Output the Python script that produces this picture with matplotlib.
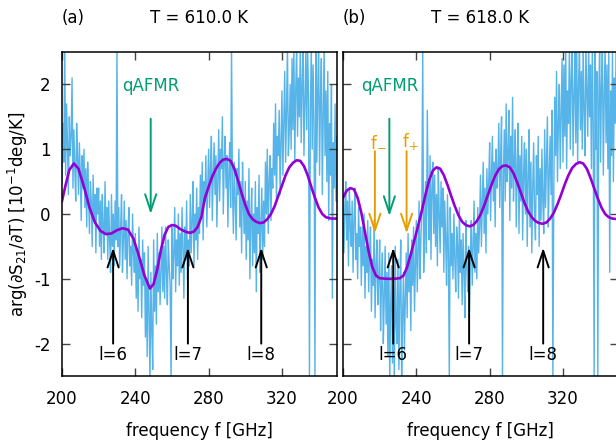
import numpy as np
import matplotlib
matplotlib.use('Agg')
import matplotlib.pyplot as plt

plt.rcParams['font.family'] = 'DejaVu Sans'
plt.rcParams['mathtext.default'] = 'regular'
plt.rcParams['axes.unicode_minus'] = False

BLUE = '#56B4E9'
PURPLE = '#9400D3'
GREEN = '#009E73'
ORANGE = '#E69F00'

# frequency grid of the measured spectra (GHz), 0.5 GHz steps
freq = np.arange(200, 350.01, 0.5)

# measured signal, panel (a), T = 610.0 K  (one row = 5 GHz)
meas_a = [
    0.5, 1.4, 0.8, 2.6, 0.6, 1.7, 1.1, 0.3, 1.5, 0.9,
    1.2, 2.1, 0.4, 1.3, 0.7, 0.2, 1.4, 0.9, 0.3, 1.1,
    0.6, -0.1, 0.9, 0.4, 1.0, 0.1, 0.7, -0.2, 0.8, 0.3,
    -0.3, 0.5, 0.2, -0.5, 0.6, -0.1, 0.3, -0.6, 0.4, 0.0,
    0.4, -0.5, 0.2, -0.7, 0.3, -0.2, -0.6, 0.5, -0.3, 0.1,
    -0.7, 0.2, -0.4, -0.9, 0.3, -0.5, 0.0, -0.8, 0.2, -0.4,
    2.6, -0.5, 0.1, -0.8, -0.2, 0.3, -0.9, -0.4, 0.2, -0.7,
    -0.1, -1.0, -0.3, 0.1, -0.8, -0.5, -1.1, 0.0, -0.6, -0.9,
    -0.3, -1.3, -0.6, -1.5, -0.2, -1.0, -0.7, -1.6, -0.4, -1.1,
    -0.6, -1.9, -1.0, -2.2, -0.5, -1.5, -2.6, -0.9, -1.8, -2.4,
    -0.4, -1.5, -0.8, -1.7, -0.3, -1.2, -0.6, -1.4, -0.9, -0.2,
    -1.2, -0.5, -1.3, -0.2, -0.9, -1.4, -0.4, -0.8, -1.1, -2.6,
    -0.2, -1.0, -0.6, 0.1, -1.2, -0.4, -0.8, 0.0, -1.1, -0.3,
    -0.9, 0.1, -0.5, -1.3, -0.2, -0.7, 0.2, -1.0, -0.4, -0.8,
    0.3, -0.6, -0.1, 0.5, -0.8, 0.0, -0.4, 0.4, -0.7, 0.1,
    -0.3, 0.6, 0.0, 0.8, -0.4, 0.5, 0.2, 0.9, -0.2, 0.4,
    1.0, 0.1, 0.7, 1.2, -0.1, 0.6, 1.1, 0.3, 0.9, -0.2,
    0.5, 1.3, 0.2, 1.0, 0.7, 1.5, 0.0, 0.8, 1.2, 0.4,
    0.9, -0.2, 0.6, 1.1, 0.1, 2.6, 0.4, -0.3, 0.8, 0.2,
    -0.4, 0.7, 0.3, 1.0, -0.2, 0.5, -0.6, 0.8, 0.1, -0.3,
    0.5, -0.7, 0.2, -0.4, 0.7, -1.0, -0.1, 0.4, -0.8, 0.0,
    -0.6, 0.5, -1.2, 0.1, -0.3, 0.6, -0.9, -0.2, 0.4, -0.7,
    0.2, -0.5, 0.8, 0.0, 1.0, -0.3, 0.5, 0.9, -0.1, 0.7,
    0.4, 1.4, 0.6, 1.7, 0.2, 1.2, 0.9, 1.6, 0.3, 1.1,
    1.9, 0.6, 1.4, 2.2, 0.8, 1.6, 2.6, 0.9, 1.3, 2.0,
    1.0, 2.4, 1.3, 2.6, 0.8, 1.9, 2.6, 1.2, 2.1, 1.5,
    2.6, 1.1, 2.0, 2.6, 0.9, 1.7, 2.5, 1.3, 2.6, 1.8,
    -2.6, 1.6, 2.6, 1.0, 2.3, 1.4, -2.6, 2.6, 0.8, 1.9,
    2.6, 0.6, 1.8, 2.4, 0.3, 1.5, 2.6, 0.9, 1.9, 0.5,
    2.2, -0.1, 1.4, 0.6, 2.0, -1.3, 1.1, 0.4, 1.7, 0.2,
    1.2,
]

# measured signal, panel (b), T = 618.0 K  (one row = 5 GHz)
meas_b = [
    0.3, -0.6, 0.1, 0.5, -0.4, 0.2, -0.8, 0.4, -0.2, -0.5,
    0.2, -0.9, -0.1, 0.4, -0.7, -0.3, -1.0, 0.1, -0.5, -0.2,
    -1.1, -0.2, -0.8, 0.0, -1.3, -0.5, -0.9, -0.1, -1.2, -0.6,
    -0.2, -1.5, -0.7, -1.1, -0.1, -1.6, -0.8, -0.4, -1.4, -1.0,
    -0.4, -1.8, -1.1, -0.6, -2.0, -1.3, -0.5, -1.7, -0.9, -2.2,
    -0.6, -2.6, -1.4, -0.8, -2.3, -1.1, -2.6, -0.5, -1.7, -2.0,
    -0.7, -2.4, -1.2, -0.4, -2.6, -1.6, -0.9, -2.1, -1.3, -0.6,
    -1.6, -0.3, -1.2, -0.7, -1.8, -0.4, -1.1, -0.2, -1.5, -0.8,
    -0.1, -1.2, -0.6, 0.2, -1.0, -0.4, 0.1, 2.6, -0.9, -0.3,
    0.5, -0.6, 1.6, 0.2, -0.4, 0.9, -0.7, 0.4, 0.8, -0.3,
    0.6, -0.5, 0.3, -0.8, 0.7, 0.0, -0.6, 0.5, -0.2, 0.4,
    -0.9, 0.2, -0.4, -1.1, 0.3, -0.6, -2.6, 0.1, -0.8, -0.3,
    -1.0, 0.0, -0.7, -1.2, -0.2, -0.5, -1.3, 0.1, -0.9, -0.4,
    -1.4, -0.3, -0.9, -1.6, -0.1, -0.8, -1.2, -0.5, -1.5, -0.6,
    -0.1, -1.1, -0.5, 0.2, -0.9, -0.3, -1.0, 0.1, -0.6, -0.2,
    0.6, -0.5, 0.2, 0.8, -0.3, 0.4, -0.6, 0.7, 0.0, 0.5,
    1.1, -0.1, 0.6, 1.2, 0.2, 0.8, -0.2, 1.0, 0.4, 0.7,
    1.4, 0.1, 0.9, 1.5, -2.6, 0.6, 1.3, 0.2, 1.7, 0.5,
    0.9, 1.6, -0.1, 1.2, 0.4, 1.8, 0.2, 0.8, 1.3, -0.2,
    0.7, 1.4, -0.3, 0.9, 0.2, 1.2, -0.4, 0.6, 1.1, 0.0,
    1.0, -0.5, 0.6, 1.3, -0.2, 0.8, -0.6, 0.4, 1.1, 0.0,
    -0.4, 0.9, 0.3, 1.2, -0.5, 0.7, -0.1, 1.0, 0.2, -0.3,
    1.3, 0.1, 0.8, 1.5, -0.2, 0.6, 1.2, 0.3, 1.6, -2.6,
    0.4, 1.8, 0.9, 2.2, 0.5, 1.4, 2.0, 0.7, 1.6, 2.4,
    0.8, 2.3, 1.2, 2.6, 0.7, 1.9, 1.4, 2.6, 1.0, 2.1,
    2.6, 0.9, 1.8, 2.5, 1.1, 2.6, 0.8, 2.0, 2.6, 1.3,
    2.2, 1.0, 2.6, 1.6, 0.9, 2.6, 1.9, 1.2, 2.6, 1.5,
    2.3, 0.7, 2.6, 1.4, -2.6, 2.6, 1.0, 2.2, -2.6, 1.7,
    2.6, 0.8, 2.0, 2.6, 0.6, 1.8, 2.6, 1.1, 2.3, 0.7,
    2.6, -0.9, 1.9, 0.9, 2.5, 0.5, 2.1, 1.4, 2.6, 0.6,
    1.5,
]

# model curve, panel (a)
fit_f_a = [200, 202, 204, 206.5, 209, 212, 215, 218, 221, 224, 227, 230, 233,
           236, 239, 242, 245, 248, 250, 252, 254, 256, 258, 260, 262, 265,
           268, 270, 272, 274, 276, 278, 280, 282, 284, 286, 288, 290, 292,
           294, 296, 298, 300, 302, 304, 306, 308, 310, 312, 314, 316, 318,
           320, 322, 324, 326, 328, 330, 332, 334, 336, 338, 340, 342, 344,
           347, 350]
fit_v_a = [0.20, 0.45, 0.68, 0.78, 0.70, 0.42, 0.10, -0.13, -0.26, -0.31,
           -0.30, -0.25, -0.22, -0.24, -0.38, -0.65, -0.95, -1.15, -1.08,
           -0.85, -0.55, -0.32, -0.20, -0.17, -0.18, -0.24, -0.28, -0.29,
           -0.27, -0.20, -0.05, 0.25, 0.42, 0.58, 0.70, 0.79, 0.84, 0.85,
           0.82, 0.70, 0.52, 0.32, 0.14, 0.00, -0.08, -0.12, -0.14, -0.13,
           -0.08, 0.00, 0.12, 0.28, 0.44, 0.60, 0.72, 0.79, 0.83, 0.82,
           0.74, 0.60, 0.42, 0.25, 0.10, 0.00, -0.05, -0.07, -0.07]

# model curve, panel (b)
fit_f_b = [200, 202, 204, 206, 208, 210, 212, 214, 216, 218, 220, 224, 228,
           231, 233, 235, 237, 239, 241, 243, 245, 247, 249, 251, 253, 255,
           257, 259, 261, 263, 265, 267, 269, 271, 273, 275, 277, 279, 281,
           283, 285, 287, 289, 291, 293, 295, 297, 299, 301, 303, 305, 307,
           309, 311, 313, 315, 317, 319, 321, 323, 325, 327, 329, 331, 333,
           335, 337, 339, 341, 343, 345, 347, 350]
fit_v_b = [0.25, 0.36, 0.40, 0.38, 0.25, 0.02, -0.28, -0.58, -0.82, -0.95,
           -0.99, -1.00, -1.00, -0.99, -0.95, -0.82, -0.62, -0.40, -0.18,
           0.05, 0.30, 0.52, 0.67, 0.72, 0.70, 0.60, 0.45, 0.28, 0.12, -0.02,
           -0.12, -0.17, -0.19, -0.17, -0.11, -0.01, 0.13, 0.29, 0.45, 0.59,
           0.69, 0.74, 0.75, 0.72, 0.63, 0.49, 0.33, 0.17, 0.04, -0.05, -0.11,
           -0.14, -0.15, -0.13, -0.07, 0.02, 0.15, 0.30, 0.46, 0.60, 0.71,
           0.77, 0.80, 0.78, 0.70, 0.56, 0.40, 0.24, 0.10, 0.00, -0.05, -0.07,
           -0.08]

# mode markers: frequency of each l arrow
mode_labels = ['l=6', 'l=7', 'l=8']
modes_a = [227.9, 268.7, 308.7]
modes_b = [227.4, 268.8, 309.2]
qafmr_a = 248.4
qafmr_b = 225.3
f_minus_b = 217.4
f_plus_b = 234.7


def arrow(ax, x, y0, y1, color, lw=1.4):
    ax.annotate('', xy=(x, y1), xytext=(x, y0),
                arrowprops=dict(arrowstyle='->,head_length=0.6,head_width=0.2',
                                color=color, lw=lw, shrinkA=0, shrinkB=0,
                                mutation_scale=20))


def setup(ax, label, title, show_y):
    ax.set_xlim(200, 350)
    ax.set_ylim(-2.5, 2.5)
    ax.set_xticks([200, 240, 280, 320])
    ax.set_yticks([-2, -1, 0, 1, 2])
    ax.tick_params(direction='in', length=6, width=1, color='#444444',
                   top=True, right=True, labelsize=12)
    ax.tick_params(axis='x', pad=10)
    ax.tick_params(axis='y', pad=8)
    if not show_y:
        ax.set_yticklabels([])
    for s in ax.spines.values():
        s.set_linewidth(1.1)
    ax.set_xlabel('frequency f [GHz]', fontsize=12, labelpad=10)
    ax.text(0.0, 1.105, label, transform=ax.transAxes, fontsize=12,
            ha='left', va='center')
    ax.text(0.5, 1.105, title, transform=ax.transAxes, fontsize=12,
            ha='center', va='center')


fig = plt.figure(figsize=(6.16, 4.42), dpi=100)
ax_a = fig.add_axes([0.1006, 0.1493, 0.4464, 0.733])
ax_b = fig.add_axes([0.5568, 0.1493, 0.4464, 0.733])

for ax, meas, ff, fv, modes in [(ax_a, meas_a, fit_f_a, fit_v_a, modes_a),
                                (ax_b, meas_b, fit_f_b, fit_v_b, modes_b)]:
    ax.plot(freq, meas, color=BLUE, lw=1.0, zorder=1)
    ax.plot(ff, fv, color=PURPLE, lw=1.9, zorder=2)
    for lab, x in zip(mode_labels, modes):
        arrow(ax, x, -2.0, -0.52, 'black')
        ax.text(x, -2.18, lab, fontsize=12, ha='center', va='center', zorder=4)

setup(ax_a, '(a)', 'T = 610.0 K', True)
setup(ax_b, '(b)', 'T = 618.0 K', False)

# qAFMR markers
arrow(ax_a, qafmr_a, 1.47, 0.0, GREEN)
ax_a.text(qafmr_a, 1.98, 'qAFMR', color=GREEN, fontsize=12, ha='center', va='center')
arrow(ax_b, qafmr_b, 1.47, -0.03, GREEN)
ax_b.text(qafmr_b, 1.98, 'qAFMR', color=GREEN, fontsize=12, ha='center', va='center')

# split modes in panel (b)
arrow(ax_b, f_minus_b, 0.97, -0.3, ORANGE)
arrow(ax_b, f_plus_b, 0.97, -0.3, ORANGE)
ax_b.text(f_minus_b - 2.5, 1.12, 'f$_{-}$', color=ORANGE, fontsize=12,
          ha='left', va='center')
ax_b.text(f_plus_b - 2.5, 1.12, 'f$_{+}$', color=ORANGE, fontsize=12,
          ha='left', va='center')

fig.text(0.029, 0.516, r'arg(∂S$_{21}$/∂T) [10$^{-1}$deg/K]', rotation=90,
         fontsize=12, ha='center', va='center')

fig.savefig('out.png', dpi=100)
